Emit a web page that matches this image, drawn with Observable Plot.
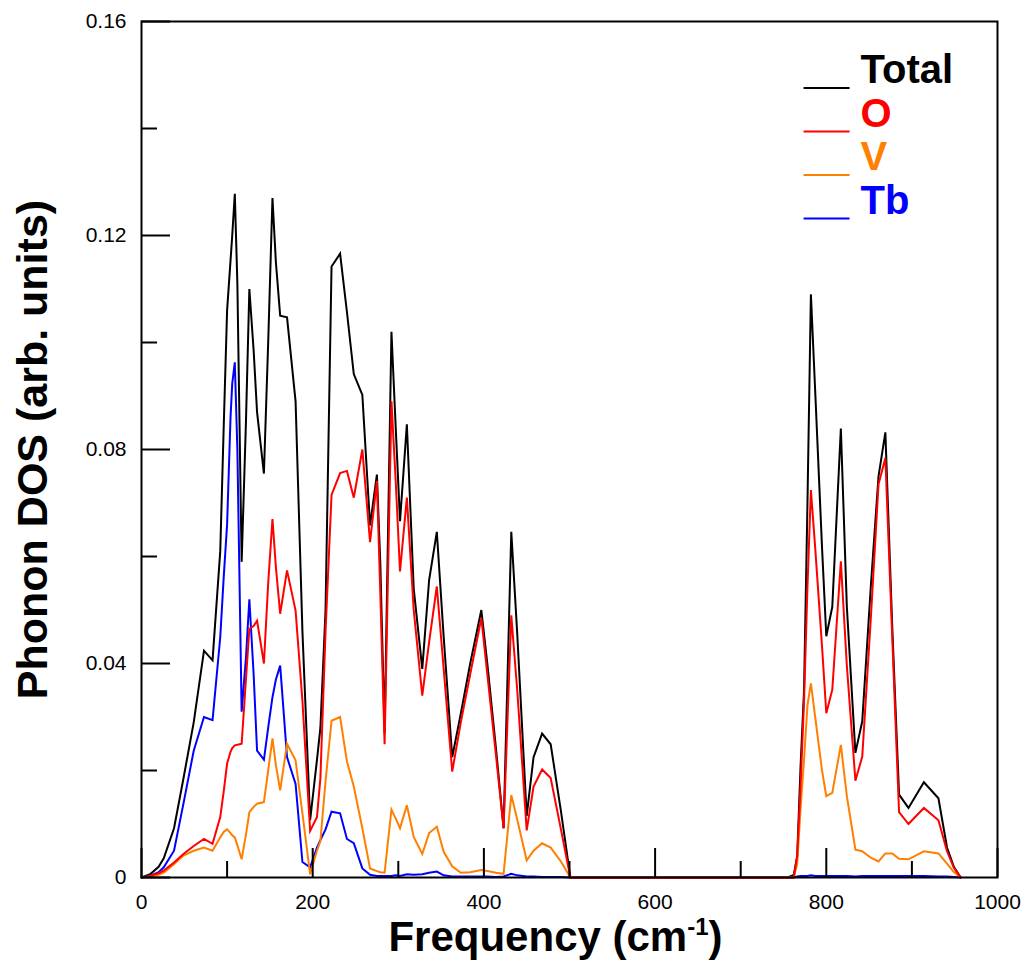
<!DOCTYPE html>
<html>
<head>
<meta charset="utf-8">
<script src="https://cdn.jsdelivr.net/npm/d3@7"></script>
<script src="https://cdn.jsdelivr.net/npm/@observablehq/plot@0.6"></script>
<style>
  html, body { margin: 0; padding: 0; background: #ffffff; }
  #chart { width: 1029px; height: 970px; }
</style>
</head>
<body>
<div id="chart"></div>
<script>
// ---------------- data ----------------
const freq = [0, 10, 20, 26, 38, 49, 61, 73, 83, 92, 96, 100, 104, 106, 109, 112, 117, 122, 126, 131, 135, 143, 148, 153, 157, 162, 170, 180, 188, 197, 205, 209, 215, 222, 232, 240, 248, 258, 267, 275, 279, 284, 292, 297, 302, 310, 318, 328, 336, 345, 353, 363, 373, 384, 397, 404, 414, 423, 432, 439, 450, 458, 468, 478, 490, 501, 510, 755, 762, 766, 770, 774, 778, 782, 787, 795, 800, 807, 817, 824, 834, 842, 852, 861, 869, 877, 885, 896, 914, 931, 941, 949, 957];

const dosTotal = [0, 0.0006, 0.0020, 0.0036, 0.0092, 0.0185, 0.0290, 0.0424, 0.0406, 0.0610, 0.0840, 0.1060, 0.1153, 0.1200, 0.1278, 0.1110, 0.0590, 0.0850, 0.1100, 0.0985, 0.0870, 0.0755, 0.1000, 0.1270, 0.1150, 0.1050, 0.1047, 0.0890, 0.0460, 0.0107, 0.0220, 0.0280, 0.0500, 0.1142, 0.1166, 0.1057, 0.0941, 0.0902, 0.0658, 0.0753, 0.0587, 0.0270, 0.1020, 0.0840, 0.0666, 0.0847, 0.0540, 0.0390, 0.0556, 0.0646, 0.0450, 0.0225, 0.0306, 0.0400, 0.0500, 0.0400, 0.0243, 0.0092, 0.0646, 0.0454, 0.0115, 0.0225, 0.0269, 0.0249, 0.0124, 0, 0, 0, 0.0005, 0.0040, 0.0210, 0.0350, 0.0700, 0.1090, 0.0910, 0.0617, 0.0451, 0.0506, 0.0839, 0.0506, 0.0233, 0.0292, 0.0544, 0.0750, 0.0832, 0.0470, 0.0155, 0.0130, 0.0178, 0.0148, 0.0056, 0.0020, 0];

const dosO = [0, 0.0003, 0.0008, 0.0013, 0.0028, 0.0044, 0.0059, 0.0072, 0.0063, 0.0113, 0.0160, 0.0213, 0.0235, 0.0242, 0.0247, 0.0248, 0.0250, 0.0370, 0.0465, 0.0470, 0.0480, 0.0400, 0.0550, 0.0670, 0.0580, 0.0493, 0.0574, 0.0499, 0.0330, 0.0087, 0.0113, 0.0186, 0.0460, 0.0715, 0.0756, 0.0760, 0.0710, 0.0800, 0.0627, 0.0741, 0.0530, 0.0249, 0.0890, 0.0740, 0.0572, 0.0710, 0.0500, 0.0340, 0.0440, 0.0544, 0.0390, 0.0198, 0.0290, 0.0380, 0.0485, 0.0380, 0.0230, 0.0092, 0.0490, 0.0349, 0.0088, 0.0170, 0.0202, 0.0186, 0.0090, 0, 0, 0, 0, 0.0040, 0.0174, 0.0330, 0.0544, 0.0724, 0.0617, 0.0432, 0.0307, 0.0351, 0.0591, 0.0396, 0.0181, 0.0226, 0.0484, 0.0735, 0.0784, 0.0450, 0.0122, 0.0100, 0.0130, 0.0107, 0.0049, 0.0018, 0];

const dosV = [0, 0.0002, 0.0005, 0.0009, 0.0025, 0.0041, 0.0050, 0.0056, 0.0050, 0.0075, 0.0085, 0.0090, 0.0083, 0.0079, 0.0075, 0.0060, 0.0034, 0.0080, 0.0122, 0.0132, 0.0138, 0.0141, 0.0200, 0.0260, 0.0210, 0.0163, 0.0250, 0.0219, 0.0120, 0.0006, 0.0050, 0.0068, 0.0180, 0.0293, 0.0300, 0.0217, 0.0170, 0.0092, 0.0017, 0.0012, 0.0010, 0.0009, 0.0127, 0.0110, 0.0092, 0.0135, 0.0076, 0.0044, 0.0083, 0.0095, 0.0048, 0.0021, 0.0009, 0.0010, 0.0014, 0.0012, 0.0009, 0.0007, 0.0154, 0.0108, 0.0032, 0.0050, 0.0064, 0.0056, 0.0030, 0, 0, 0, 0, 0.0026, 0.0130, 0.0220, 0.0322, 0.0363, 0.0300, 0.0200, 0.0152, 0.0158, 0.0248, 0.0152, 0.0052, 0.0049, 0.0037, 0.0030, 0.0045, 0.0045, 0.0035, 0.0034, 0.0049, 0.0045, 0.0026, 0.0010, 0];

const dosTb = [0, 0.0003, 0.0010, 0.0019, 0.0050, 0.0138, 0.0237, 0.0300, 0.0294, 0.0449, 0.0560, 0.0660, 0.0860, 0.0923, 0.0963, 0.0800, 0.0310, 0.0410, 0.0520, 0.0380, 0.0237, 0.0220, 0.0280, 0.0337, 0.0370, 0.0396, 0.0225, 0.0175, 0.0029, 0.0019, 0.0056, 0.0070, 0.0090, 0.0123, 0.0120, 0.0072, 0.0064, 0.0017, 0.0005, 0.0003, 0.0003, 0.0003, 0.0003, 0.0004, 0.0003, 0.0006, 0.0005, 0.0006, 0.0009, 0.0011, 0.0004, 0.0002, 0.0002, 0.0002, 0.0002, 0.0002, 0.0001, 0.0002, 0.0007, 0.0004, 0.0002, 0.0002, 0.0001, 0.0001, 0.0001, 0, 0, 0, 0, 0.0002, 0.0003, 0.0003, 0.0003, 0.0004, 0.0003, 0.0003, 0.0003, 0.0003, 0.0003, 0.0003, 0.0002, 0.0003, 0.0003, 0.0003, 0.0003, 0.0003, 0.0003, 0.0003, 0.0003, 0.0002, 0.0002, 0.0001, 0];

const seriesNames  = ["Total", "O", "V", "Tb"];
const seriesColors = ["#000000", "#ff0000", "#ff7f00", "#0000ff"];
const seriesValues = [dosTotal, dosO, dosV, dosTb];
const drawOrder = [0, 3, 2, 1]; // Total, Tb, V, then O on top

const xMajorTicks = [0, 200, 400, 600, 800, 1000];
const xMinorTicks = [100, 300, 500, 700, 900];
const yMajorTicks = [0, 0.04, 0.08, 0.12, 0.16];
const yMinorTicks = [0.02, 0.06, 0.10, 0.14];

const xLabelMain = "Frequency (cm";
const xLabelSup = "-1";
const xLabelEnd = ")";
const xLabel = xLabelMain + xLabelSup + xLabelEnd;
const yLabel = "Phonon DOS (arb. units)";

// ---------------- layout ----------------
const W = 1029, H = 970;
const mL = 141, mT = 21, mR = 32, mB = 93;
const frameW = W - mL - mR, frameH = H - mT - mB;
const majorLen = 29, minorLen = 16;
const font = "'Liberation Sans', Arial, Helvetica, sans-serif";

const lineMarks = drawOrder.map(k =>
  Plot.line(freq, {
    x: d => d,
    y: (d, i) => seriesValues[k][i],
    stroke: seriesColors[k],
    strokeWidth: 2,
    strokeLinejoin: "miter",
    strokeMiterlimit: 4
  })
);

const plot = Plot.plot({
  width: W,
  height: H,
  marginLeft: mL,
  marginRight: mR,
  marginTop: mT,
  marginBottom: mB,
  style: { fontFamily: font, fontSize: "21px", background: "#ffffff", color: "#000000" },
  x: { domain: [0, 1000] },
  y: { domain: [0, 0.16] },
  marks: [
    ...lineMarks,
    Plot.ruleX(xMajorTicks, { x: d => d, insetTop: frameH - majorLen, stroke: "#000", strokeWidth: 2 }),
    Plot.ruleX(xMinorTicks, { x: d => d, insetTop: frameH - minorLen, stroke: "#000", strokeWidth: 2 }),
    Plot.ruleY(yMajorTicks, { y: d => d, insetRight: frameW - majorLen, stroke: "#000", strokeWidth: 2 }),
    Plot.ruleY(yMinorTicks, { y: d => d, insetRight: frameW - minorLen, stroke: "#000", strokeWidth: 2 }),
    Plot.frame({ stroke: "#000", strokeWidth: 2 }),
    Plot.axisX({ anchor: "bottom", ticks: xMajorTicks, tickSize: 0, tickPadding: 17, tickFormat: d => String(d), label: null, fontSize: 21 }),
    Plot.axisY({ anchor: "left", ticks: yMajorTicks, tickSize: 0, tickPadding: 15, tickFormat: d => d === 0 ? "0" : d.toFixed(2), label: null, fontSize: 21 }),
    Plot.text([xLabel], { text: d => d, frameAnchor: "bottom", dx: -14, dy: 73, lineAnchor: "bottom", textAnchor: "middle", fontSize: 42, fontWeight: "bold", fill: "#000" }),
    Plot.text([yLabel], { text: d => d, frameAnchor: "left", dx: -95, rotate: -90, lineAnchor: "bottom", textAnchor: "middle", fontSize: 43, fontWeight: "bold", fill: "#000" })
  ]
});

document.getElementById("chart").appendChild(plot);

const svg = d3.select(plot);

// superscript in the x-axis title
svg.selectAll("text").filter(function () { return this.textContent === xLabel; })
  .each(function () {
    const t = d3.select(this);
    t.text(null);
    t.append("tspan").text(xLabelMain);
    t.append("tspan").attr("font-size", 24).attr("dy", -16).text(xLabelSup);
    t.append("tspan").attr("dy", 16).text(xLabelEnd);
  });

// ---------------- legend (inside the plot, top right) ----------------
const legendX = mL + frameW * 0.774;  // left of the sample line
const legendTop = mT + 62;            // first text baseline
const legendStep = 43.5;
const legend = svg.append("g").attr("class", "legend").attr("text-anchor", "start");
seriesNames.forEach((name, i) => {
  const base = legendTop + i * legendStep;
  legend.append("line")
    .attr("x1", legendX).attr("x2", legendX + 46)
    .attr("y1", base + 5).attr("y2", base + 5)
    .attr("stroke", seriesColors[i]).attr("stroke-width", 2);
  legend.append("text")
    .attr("x", legendX + 57).attr("y", base)
    .attr("text-anchor", "start")
    .attr("fill", seriesColors[i])
    .attr("font-family", font)
    .attr("font-size", 40)
    .attr("font-weight", "bold")
    .text(name);
});
</script>
</body>
</html>
